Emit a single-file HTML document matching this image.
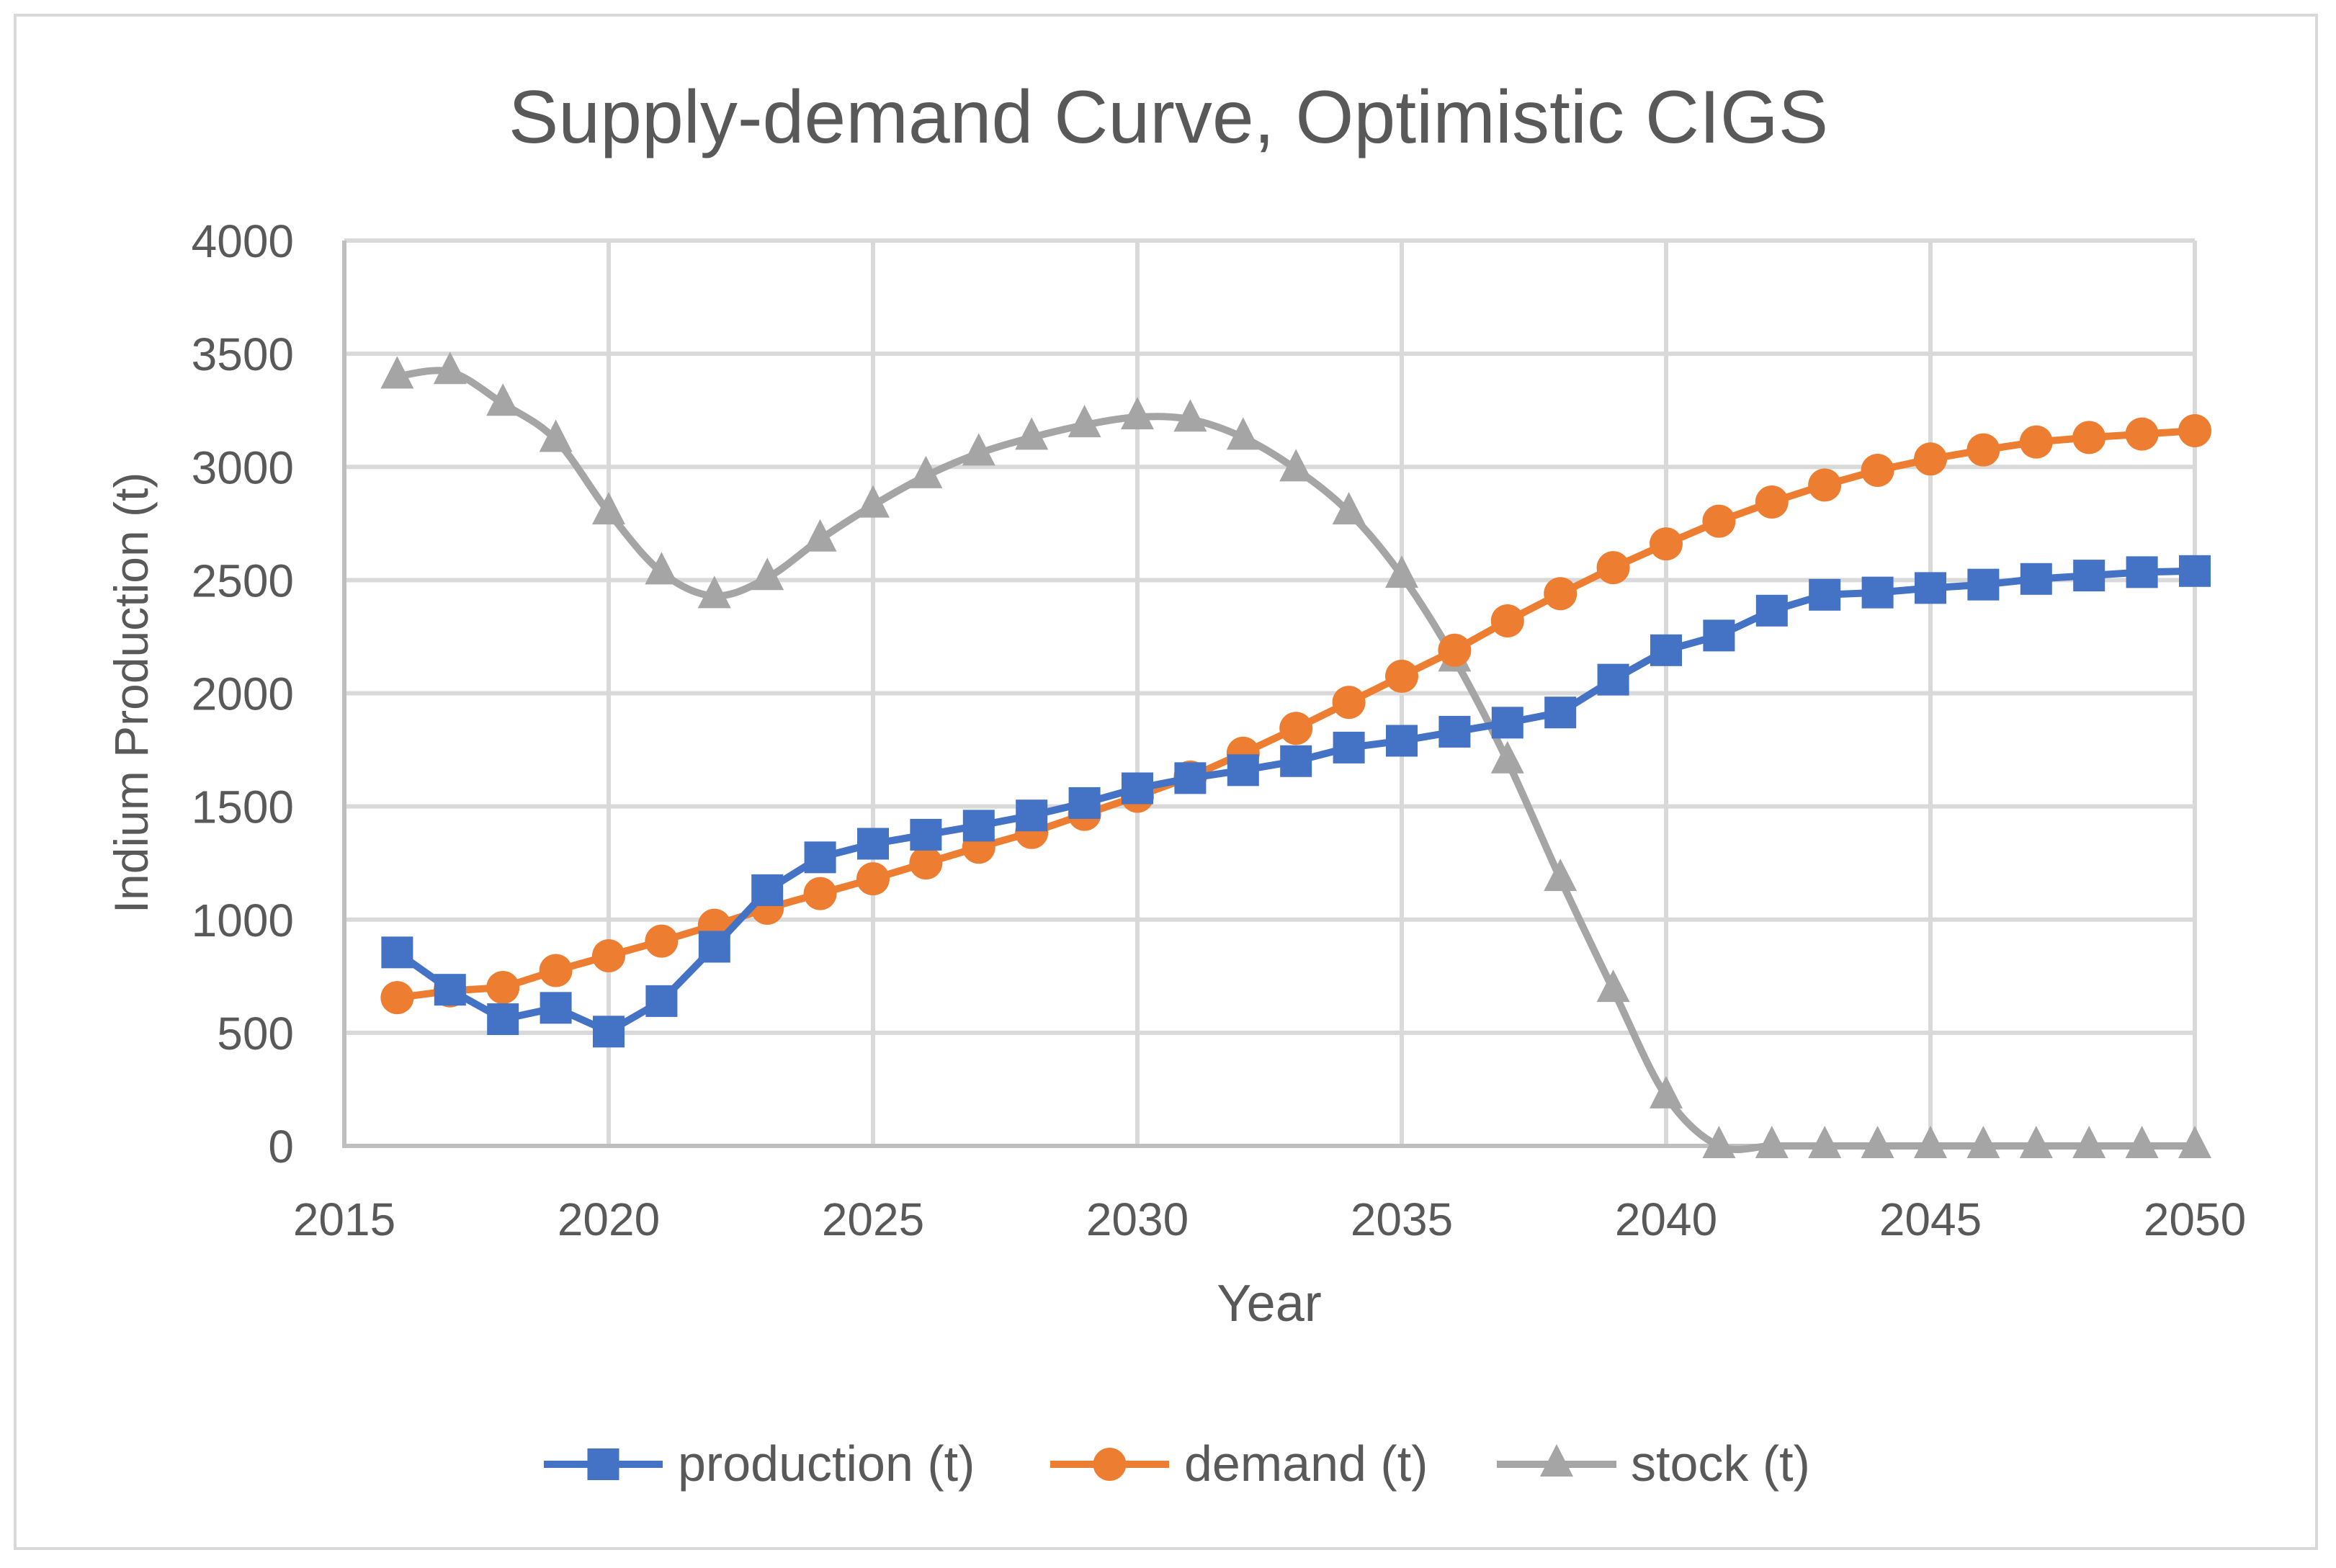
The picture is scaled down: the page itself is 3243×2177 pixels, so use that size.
<!DOCTYPE html>
<html><head><meta charset="utf-8"><style>
html,body{margin:0;padding:0;background:#fff;}
svg{display:block;font-family:"Liberation Sans",sans-serif;}
</style></head><body>
<svg id="chart" width="3243" height="2177" viewBox="0 0 3243 2177">
<rect x="21" y="21" width="3195" height="2129" fill="#fff" stroke="#d9d9d9" stroke-width="4"/>
<text x="1622" y="198" text-anchor="middle" font-size="104" fill="#595959">Supply-demand Curve, Optimistic CIGS</text>
<g id="grid"></g>
<g id="axes"></g>
<g id="series"></g>
<text transform="translate(205,962) rotate(-90)" text-anchor="middle" font-size="66" fill="#595959">Indium Production (t)</text>
<text x="1762" y="1834" text-anchor="middle" font-size="72" fill="#595959">Year</text>
<g id="legend"></g>
</svg>
<script>
const years = [2016,2017,2018,2019,2020,2021,2022,2023,2024,2025,2026,2027,2028,2029,2030,2031,2032,2033,2034,2035,2036,2037,2038,2039,2040,2041,2042,2043,2044,2045,2046,2047,2048,2049,2050];
const production = [855,690,560,610,505,640,880,1130,1275,1335,1375,1415,1460,1515,1580,1625,1660,1700,1760,1790,1830,1870,1915,2060,2190,2255,2365,2435,2445,2465,2480,2505,2520,2535,2540];
const demand = [655,685,700,775,840,905,975,1050,1115,1180,1250,1320,1385,1465,1545,1630,1735,1845,1960,2075,2190,2320,2440,2555,2660,2760,2845,2920,2985,3035,3075,3110,3130,3145,3160];
const stock = [3400,3420,3280,3120,2800,2535,2430,2510,2680,2830,2960,3060,3130,3185,3220,3210,3130,2990,2800,2520,2150,1700,1180,690,220,0,0,0,0,0,0,0,0,0,0];
const xTicks = [2015,2020,2025,2030,2035,2040,2045,2050];
const yTicks = [0,500,1000,1500,2000,2500,3000,3500,4000];

const NS="http://www.w3.org/2000/svg";
const X0=478,X1=3047,Y0=1591,Y1=334;
const xs=v=>X0+(v-2015)/(2050-2015)*(X1-X0);
const ys=v=>Y0-(v/4000)*(Y0-Y1);
function mk(tag,attrs,parent){const e=document.createElementNS(NS,tag);for(const k in attrs)e.setAttribute(k,attrs[k]);parent.appendChild(e);return e;}
const grid=document.getElementById('grid'),axes=document.getElementById('axes'),ser=document.getElementById('series'),leg=document.getElementById('legend');

yTicks.forEach(t=>{
  if(t>0){const l=mk('line',{x1:X0,x2:X1,y1:ys(t),y2:ys(t),stroke:'#d9d9d9','stroke-width':6},grid);
  
  }
  const tx=mk('text',{x:408,y:ys(t)+23,'text-anchor':'end','font-size':64,fill:'#595959'},axes);
  tx.textContent=t;
  
  
});
xTicks.forEach(t=>{
  if(t>2015){const l=mk('line',{x1:xs(t),x2:xs(t),y1:Y1,y2:Y0,stroke:'#d9d9d9','stroke-width':6},grid);
  
  }
  const tx=mk('text',{x:xs(t),y:1715,'text-anchor':'middle','font-size':64,fill:'#595959'},axes);
  tx.textContent=t;
  
  
});
const ax1=mk('line',{x1:X0,x2:X0,y1:Y1,y2:Y0+3,stroke:'#bfbfbf','stroke-width':6},axes);


const ax2=mk('line',{x1:X0-3,x2:X1,y1:Y0,y2:Y0,stroke:'#bfbfbf','stroke-width':6},axes);



function straight(pts){return pts.map((p,i)=>(i?'L':'M')+p[0].toFixed(1)+' '+p[1].toFixed(1)).join(' ');}
function smooth(pts){let d='M'+pts[0][0]+' '+pts[0][1];const t=1/6;
 for(let i=0;i<pts.length-1;i++){const p0=pts[Math.max(0,i-1)],p1=pts[i],p2=pts[i+1],p3=pts[Math.min(pts.length-1,i+2)];
 d+=' C'+(p1[0]+(p2[0]-p0[0])*t)+' '+(p1[1]+(p2[1]-p0[1])*t)+' '+(p2[0]-(p3[0]-p1[0])*t)+' '+(p2[1]-(p3[1]-p1[1])*t)+' '+p2[0]+' '+p2[1];}
 return d;}
function marker(type,x,y,color,parent){
 if(type==='square')return mk('rect',{x:x-22,y:y-22,width:44,height:44,fill:color},parent);
 if(type==='circle')return mk('circle',{cx:x,cy:y,r:23,fill:color},parent);
 return mk('polygon',{points:`${x},${y-28} ${x+23},${y+17} ${x-23},${y+17}`,fill:color},parent);
}
const seriesDefs=[
 {name:'stock',vals:stock,color:'#a5a5a5',m:'triangle',sm:true},
 {name:'demand',vals:demand,color:'#ed7d31',m:'circle',sm:false},
 {name:'production',vals:production,color:'#4472c4',m:'square',sm:false}
];
seriesDefs.forEach(s=>{
 const g=mk('g',{},ser);
 
 
 const pts=years.map((y,i)=>[xs(y),ys(s.vals[i])]);
 const p=mk('path',{d:s.sm?smooth(pts):straight(pts),fill:'none',stroke:s.color,'stroke-width':10,'stroke-linejoin':'round'},g);
 
 
 pts.forEach(pt=>{const m=marker(s.m,pt[0],pt[1],s.color,g);
  
  });
});
const legItems=[
 {label:'production (t)',color:'#4472c4',m:'square',x1:755,x2:920,tx:941},
 {label:'demand (t)',color:'#ed7d31',m:'circle',x1:1458,x2:1623,tx:1644},
 {label:'stock (t)',color:'#a5a5a5',m:'triangle',x1:2078,x2:2244,tx:2264}
];
legItems.forEach(it=>{
 const g=mk('g',{},leg);
 
 
 mk('line',{x1:it.x1,x2:it.x2,y1:2033,y2:2033,stroke:it.color,'stroke-width':10},g);
 marker(it.m,(it.x1+it.x2)/2,2033,it.color,g);
 const t=mk('text',{x:it.tx,y:2056,'font-size':70,fill:'#595959'},g);
 t.textContent=it.label;
});
</script>
</body></html>
